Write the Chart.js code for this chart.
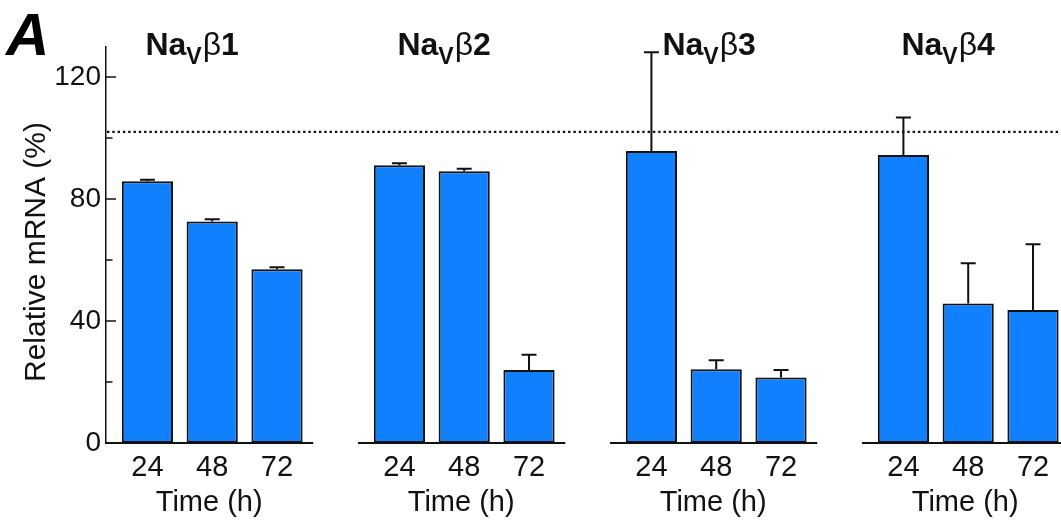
<!DOCTYPE html>
<html><head><meta charset="utf-8">
<script src="https://cdn.jsdelivr.net/npm/chart.js@4.4.1/dist/chart.umd.min.js"></script>
<style>html,body{margin:0;padding:0;background:#fff}#wrap{width:1061px;height:527px;position:relative}</style>
</head><body><div id="wrap"><canvas id="c" width="1061" height="527"></canvas></div>
<script>
// ---- data ----
const SUBUNITS = ['1', '2', '3', '4'];            // NaVβ1 ... NaVβ4
const TIME_LABELS = ['24', '48', '72'];           // hours
const MEAN_B1 = [85.8, 72.6, 57.0];
const MEAN_B2 = [91.1, 89.1, 23.9];
const MEAN_B3 = [95.7, 24.2, 21.5];
const MEAN_B4 = [94.4, 45.7, 43.6];
const ERR_B1 = [0.5, 0.8, 0.6];
const ERR_B2 = [0.6, 0.8, 5.0];
const ERR_B3 = [32.4, 2.9, 2.4];
const ERR_B4 = [12.3, 13.2, 21.6];
const REFERENCE_LEVEL = 102;
const Y_TICK_VALUES = [0, 40, 80, 120];
const Y_MAX = 130;

const MEANS = [MEAN_B1, MEAN_B2, MEAN_B3, MEAN_B4];
const ERRS = [ERR_B1, ERR_B2, ERR_B3, ERR_B4];

// ---- layout helpers ----
const GROUP_STEP = 3.889;   // x-units between panels
const X_MIN = -0.639, X_MAX = 14.099;
const FONT = '"Liberation Sans", Arial, Helvetica, sans-serif';
const INK = '#111111';

const points = [];
const positions = [];
MEANS.forEach((arr, g) => arr.forEach((v, i) => {
  const x = g * GROUP_STEP + i;
  points.push({x: x, y: v, err: ERRS[g][i]});
  positions.push(x);
}));

const extras = {
  id: 'extras',
  afterDatasetsDraw(chart) {
    const ctx = chart.ctx;
    const xs = chart.scales.x, ys = chart.scales.y;
    const y0 = ys.getPixelForValue(0);
    ctx.save();
    ctx.strokeStyle = INK;
    ctx.fillStyle = INK;
    // error bars
    const meta = chart.getDatasetMeta(0);
    ctx.lineWidth = 2;
    meta.data.forEach((el, k) => {
      const p = points[k];
      const top = ys.getPixelForValue(p.y + p.err);
      const base = ys.getPixelForValue(p.y);
      ctx.beginPath();
      ctx.moveTo(el.x, base);
      ctx.lineTo(el.x, top);
      ctx.moveTo(el.x - 7.5, top);
      ctx.lineTo(el.x + 7.5, top);
      ctx.stroke();
    });
    // per-panel baselines
    ctx.lineWidth = 2;
    SUBUNITS.forEach((s, g) => {
      const a = xs.getPixelForValue(g * GROUP_STEP - 0.639);
      const b = xs.getPixelForValue(g * GROUP_STEP + 2 + 0.56);
      ctx.beginPath();
      ctx.moveTo(a, y0);
      ctx.lineTo(b, y0);
      ctx.stroke();
    });
    // inward y ticks
    const ax = chart.chartArea.left;
    ctx.lineWidth = 1.5;
    for (let v = 0; v <= 120; v += 20) {
      const py = ys.getPixelForValue(v);
      const len = Y_TICK_VALUES.includes(v) ? 10 : 6.5;
      ctx.beginPath();
      ctx.moveTo(ax, py);
      ctx.lineTo(ax + len, py);
      ctx.stroke();
    }
    // dotted reference line
    const ry = ys.getPixelForValue(REFERENCE_LEVEL);
    ctx.lineWidth = 2.4;
    ctx.setLineDash([2.4, 2.9]);
    ctx.beginPath();
    ctx.moveTo(ax + 1, ry);
    ctx.lineTo(chart.width, ry);
    ctx.stroke();
    ctx.setLineDash([]);
    // panel titles NaVβn
    const shifts = [-2, -2, 11, -2];
    ctx.textBaseline = 'alphabetic';
    ctx.textAlign = 'left';
    SUBUNITS.forEach((s, g) => {
      let x = xs.getPixelForValue(g * GROUP_STEP) + shifts[g];
      const by = 55;
      ctx.font = 'bold 32px ' + FONT;
      ctx.fillText('Na', x, by);
      x += ctx.measureText('Na').width;
      ctx.font = 'bold 23px ' + FONT;
      ctx.fillText('V', x, by + 9);
      x += ctx.measureText('V').width + 1;
      ctx.font = '32px ' + FONT;
      ctx.fillText('\u03B2', x, by);
      x += ctx.measureText('\u03B2').width;
      ctx.font = 'bold 32px ' + FONT;
      ctx.fillText(s, x, by);
    });
    // x axis titles
    ctx.font = '29px ' + FONT;
    ctx.textAlign = 'center';
    SUBUNITS.forEach((s, g) => {
      ctx.fillText('Time (h)', xs.getPixelForValue(g * GROUP_STEP + 1) - 3, 511);
    });
    // y axis title
    ctx.save();
    ctx.translate(45, 252);
    ctx.rotate(-Math.PI / 2);
    ctx.font = '30px ' + FONT;
    ctx.textAlign = 'center';
    ctx.fillText('Relative mRNA (%)', 0, 0);
    ctx.restore();
    // panel letter
    ctx.font = 'italic bold 60px ' + FONT;
    ctx.textAlign = 'left';
    ctx.fillStyle = '#000';
    ctx.fillText('A', 6, 55);
    ctx.restore();
  }
};

new Chart(document.getElementById('c'), {
  type: 'bar',
  data: {
    datasets: [{
      data: points,
      backgroundColor: '#1180fe',
      borderColor: INK,
      borderWidth: 2,
      borderSkipped: false,
      barPercentage: 0.79,
      categoryPercentage: 1.0
    }]
  },
  options: {
    responsive: false,
    animation: false,
    devicePixelRatio: 1,
    layout: {padding: {top: 46.5, left: 0, right: 0, bottom: 0}},
    plugins: {legend: {display: false}, tooltip: {enabled: false}, title: {display: false}},
    scales: {
      x: {
        type: 'linear',
        min: X_MIN, max: X_MAX,
        offset: false,
        grid: {display: false, drawTicks: false},
        border: {display: false},
        afterBuildTicks(scale) { scale.ticks = positions.map(v => ({value: v})); },
        afterFit(scale) { scale.height = 84; },
        ticks: {
          autoSkip: false, maxRotation: 0, minRotation: 0,
          padding: 8,
          color: INK,
          font: {size: 29, family: FONT},
          callback: (v, i) => TIME_LABELS[i % TIME_LABELS.length]
        }
      },
      y: {
        type: 'linear',
        min: 0, max: Y_MAX,
        grid: {display: false, drawTicks: false},
        border: {display: true, color: INK, width: 1.5},
        afterFit(scale) { scale.width = 106; },
        ticks: {
          stepSize: 20,
          includeBounds: false,
          autoSkip: false,
          padding: 5,
          color: INK,
          font: {size: 28, family: FONT},
          callback: v => (Y_TICK_VALUES.includes(v) ? String(v) : '')
        }
      }
    }
  },
  plugins: [extras]
});
</script>
</body></html>
